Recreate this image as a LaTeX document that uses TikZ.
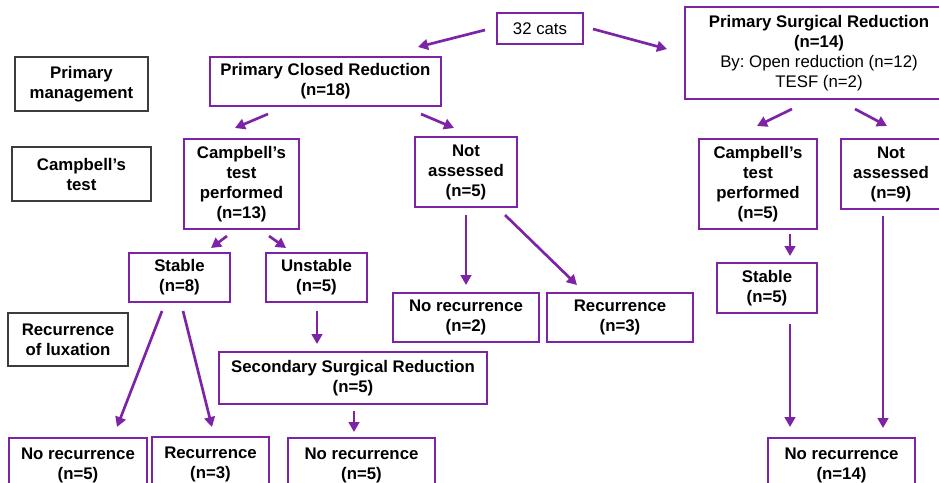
\documentclass[tikz,border=0pt]{standalone}
\usepackage{fontspec}
\setmainfont{Liberation Sans}
\usetikzlibrary{arrows.meta}
\definecolor{flowpurple}{RGB}{125,35,165}
\definecolor{labelgrey}{RGB}{60,60,60}
\frenchspacing
\begin{document}
\begin{tikzpicture}[
        x                 = 0.75pt,
        y                 = -0.75pt,
        every node/.style = {font=\fontsize{12.6}{15}\selectfont, align=center, inner sep=0pt},
        % boxes of the flow chart
        box/.style 2 args = {draw=flowpurple, line width=1.5pt, font=\fontsize{12.6}{15}\selectfont\bfseries,
                             minimum width=#1*0.75pt, minimum height=#2*0.75pt},
        plainbox/.style 2 args = {draw=flowpurple, line width=1.5pt,
                             minimum width=#1*0.75pt, minimum height=#2*0.75pt},
        rowlabel/.style 2 args = {draw=labelgrey, line width=1pt, font=\fontsize{12.6}{15}\selectfont\bfseries,
                             minimum width=#1*0.75pt, minimum height=#2*0.75pt},
        flow/.style       = {draw=flowpurple, line width=2pt, -{Triangle[length=7.5pt, width=8pt]}},
      ]
        \useasboundingbox (0,0) rectangle (939,482);

        % row labels
        \node[rowlabel={133}{54}] (pm) at (81.5,84) {Primary\\management};
        \node[rowlabel={139}{54}] (ct) at (81.5,174) {Campbell's\\test};
        \node[rowlabel={120}{53}] (rl) at (68,339.5) {Recurrence\\of luxation};

        % top
        \node[plainbox={86}{31}] (cats) at (540,28.5) {32 cats};
        \node[box={231}{49}] (pcr) at (325.5,81.5) {Primary Closed Reduction\\(n=18)};
        \node[plainbox={268}{92}] (psr) at (819,53)
            {\textbf{Primary Surgical Reduction}\\\textbf{(n=14)}\\By: Open reduction (n=12)\\TESF (n=2)};

        % Campbell's test
        \node[box={115}{90}] (ctp) at (241.5,184) {Campbell's\\test\\performed\\(n=13)};
        \node[box={102}{70}] (nal) at (466,172) {Not\\assessed\\(n=5)};
        \node[box={118}{90}] (ctr) at (758,184) {Campbell's\\test\\performed\\(n=5)};
        \node[box={100}{70}] (nar) at (891,174) {Not\\assessed\\(n=9)};

        \node[box={101}{49}] (stl) at (179.5,277.5) {Stable\\(n=8)};
        \node[box={101}{49}] (unst) at (316.5,277.5) {Unstable\\(n=5)};
        \node[box={100}{50}] (str) at (767,288) {Stable\\(n=5)};

        % recurrence
        \node[box={146}{49}] (nr2) at (466,317.5) {No recurrence\\(n=2)};
        \node[box={146}{49}] (r3) at (620,317.5) {Recurrence\\(n=3)};
        \node[box={268}{52}] (ssr) at (353,378) {Secondary Surgical Reduction\\(n=5)};

        \node[box={138}{54}] (nr5a) at (78,465) {No recurrence\\(n=5)};
        \node[box={117}{54}] (r3b) at (210.5,464) {Recurrence\\(n=3)};
        \node[box={147}{54}] (nr5b) at (361.5,465) {No recurrence\\(n=5)};
        \node[box={147}{54}] (nr14) at (841.5,465) {No recurrence\\(n=14)};

        % arrows
        \draw[flow] ([shift={(-11,1.5)}]cats.west) -- ([shift={(-24,-9)}]pcr.north east);
        \draw[flow] ([shift={(9,0.5)}]cats.east) -- ([shift={(-17,-4)}]psr.west);
        \draw[flow] ([shift={(-57.5,7)}]pcr.south) -- ([shift={(-6.5,-10)}]ctp.north);
        \draw[flow] ([shift={(-21,7)}]pcr.south east) -- ([shift={(-12,-8)}]nal.north);
        \draw[flow] ([shift={(-27,9)}]psr.south) -- ([shift={(-1,-12)}]ctr.north);
        \draw[flow] ([shift={(36,9)}]psr.south) -- ([shift={(-4,-12)}]nar.north);
        \draw[flow] ([shift={(-14.5,6)}]ctp.south) -- ([shift={(31.5,-4)}]stl.north);
        \draw[flow] ([shift={(27.5,6)}]ctp.south) -- ([shift={(-30.5,-4)}]unst.north);
        \draw[flow] ([shift={(0,7)}]nal.south) -- ([shift={(0,-7)}]nr2.north);
        \draw[flow] ([shift={(39,7)}]nal.south) -- ([shift={(-43,-7)}]r3.north);
        \draw[flow] ([shift={(32,4)}]ctr.south) -- ([shift={(23,-6)}]str.north);
        \draw[flow] ([shift={(-8,6)}]nar.south) -- ([shift={(41.5,-9)}]nr14.north);
        \draw[flow] ([shift={(23,10)}]str.south) -- ([shift={(-51.5,-10)}]nr14.north);
        \draw[flow] ([shift={(-17.5,8)}]stl.south) -- ([shift={(39,-10)}]nr5a.north);
        \draw[flow] ([shift={(3.5,8)}]stl.south) -- ([shift={(1.5,-9)}]r3b.north);
        \draw[flow] ([shift={(0.5,8)}]unst.south) -- ([shift={(-36,-7)}]ssr.north);
        \draw[flow] ([shift={(1,6)}]ssr.south) -- ([shift={(-7.5,-5)}]nr5b.north);
    \end{tikzpicture}
\end{document}
